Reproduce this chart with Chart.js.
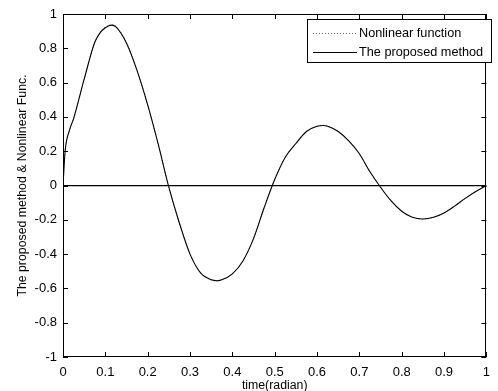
<!DOCTYPE html>
<html>
<head>
<meta charset="utf-8">
<script src="https://cdn.jsdelivr.net/npm/chart.js@4.4.1/dist/chart.umd.min.js"></script>
<style>
  html, body { margin: 0; padding: 0; background: #fff; }
  #c { display: block; }
</style>
</head>
<body>
<canvas id="c" width="498" height="391"></canvas>
<script>
// ---- data ----
const timeX = [0, 0.005, 0.015, 0.025, 0.05, 0.075, 0.0875, 0.1, 0.115, 0.125, 0.15, 0.175, 0.2, 0.225, 0.25,
  0.275, 0.3, 0.325, 0.35, 0.365, 0.375, 0.4, 0.425, 0.45, 0.475, 0.5, 0.525, 0.55, 0.575, 0.6, 0.615,
  0.625, 0.65, 0.675, 0.7, 0.725, 0.75, 0.775, 0.8, 0.825, 0.85, 0.875, 0.9, 0.925, 0.95, 0.975, 1.0];
const nonlinearY = [0, 0.21, 0.32, 0.39, 0.62, 0.835, 0.895, 0.925, 0.94, 0.93, 0.835, 0.67, 0.47, 0.24, -0.01,
  -0.22, -0.40, -0.51, -0.55, -0.558, -0.552, -0.515, -0.44, -0.31, -0.13, 0.035, 0.165, 0.245, 0.315, 0.345, 0.352,
  0.347, 0.315, 0.26, 0.185, 0.08, -0.01, -0.09, -0.15, -0.185, -0.197, -0.187, -0.16, -0.12, -0.075, -0.035, 0.0];
const proposedY = [0, 0.2, 0.32, 0.39, 0.62, 0.835, 0.89, 0.92, 0.935, 0.925, 0.83, 0.67, 0.47, 0.24, -0.01,
  -0.22, -0.40, -0.51, -0.55, -0.555, -0.55, -0.515, -0.44, -0.31, -0.13, 0.035, 0.165, 0.245, 0.315, 0.345, 0.35,
  0.345, 0.315, 0.26, 0.185, 0.08, -0.01, -0.09, -0.15, -0.185, -0.195, -0.185, -0.16, -0.12, -0.075, -0.035, 0.0];
const seriesNames = ["Nonlinear function", "The proposed method"];
const xTitle = "time(radian)";
const yTitle = "The proposed method & Nonlinear Func.";
const xTicks = [0, 0.1, 0.2, 0.3, 0.4, 0.5, 0.6, 0.7, 0.8, 0.9, 1];
const yTicks = [-1, -0.8, -0.6, -0.4, -0.2, 0, 0.2, 0.4, 0.6, 0.8, 1];

const FONT = "'Liberation Sans', Arial, Helvetica, sans-serif";
const toPts = ys => timeX.map((x, i) => ({ x: x, y: ys[i] }));
const fmt = v => { const r = Math.round(v * 10) / 10; return r === 0 ? "0" : String(r); };

const framePlugin = {
  id: 'frame',
  afterDraw(chart) {
    const { ctx, chartArea: a, scales } = chart;
    ctx.save();
    ctx.strokeStyle = '#000';
    ctx.lineWidth = 1;
    // frame
    ctx.strokeRect(Math.round(a.left) + 0.5, Math.round(a.top) + 0.5,
      Math.round(a.right - a.left) - 1, Math.round(a.bottom - a.top) - 1);
    // inward ticks
    const tl = 5;
    ctx.beginPath();
    xTicks.forEach(v => {
      const px = Math.round(scales.x.getPixelForValue(v)) + 0.5;
      ctx.moveTo(px, a.bottom); ctx.lineTo(px, a.bottom - tl);
      ctx.moveTo(px, a.top); ctx.lineTo(px, a.top + tl);
    });
    yTicks.forEach(v => {
      const py = Math.round(scales.y.getPixelForValue(v)) + 0.5;
      ctx.moveTo(a.left, py); ctx.lineTo(a.left + tl, py);
      ctx.moveTo(a.right, py); ctx.lineTo(a.right - tl, py);
    });
    ctx.stroke();
    // legend
    const bx = 307.5, by = 19.5, bw = 184, bh = 43;
    ctx.fillStyle = '#fff';
    ctx.fillRect(bx, by, bw, bh);
    ctx.strokeRect(bx, by, bw, bh);
    ctx.font = "12.7px " + FONT;
    ctx.fillStyle = '#000';
    ctx.textBaseline = 'middle';
    ctx.textAlign = 'left';
    const rows = [by + 13.5, by + 32.5];
    // dotted sample
    ctx.save();
    ctx.strokeStyle = '#666';
    ctx.setLineDash([1, 2]);
    ctx.beginPath(); ctx.moveTo(313, Math.round(rows[0]) + 0.5); ctx.lineTo(357, Math.round(rows[0]) + 0.5); ctx.stroke();
    ctx.restore();
    ctx.beginPath(); ctx.moveTo(313, Math.round(rows[1]) + 0.5); ctx.lineTo(357, Math.round(rows[1]) + 0.5); ctx.stroke();
    ctx.fillText(seriesNames[0], 359, rows[0]);
    ctx.fillText(seriesNames[1], 359, rows[1]);
    ctx.restore();
  }
};

new Chart(document.getElementById('c'), {
  type: 'line',
  data: {
    datasets: [
      {
        label: seriesNames[1], data: toPts(proposedY), borderColor: '#000', borderWidth: 1.1,
        pointRadius: 0, fill: false, cubicInterpolationMode: 'monotone', order: 0
      },
      {
        label: seriesNames[0], data: toPts(nonlinearY), borderColor: '#888', borderWidth: 1,
        borderDash: [1, 2], pointRadius: 0, fill: false, cubicInterpolationMode: 'monotone', order: 1
      }
    ]
  },
  options: {
    responsive: false,
    animation: false,
    events: [],
    layout: { padding: { top: 14, right: 2, left: 0, bottom: 0 } },
    plugins: { legend: { display: false }, tooltip: { enabled: false } },
    scales: {
      x: {
        type: 'linear', min: 0, max: 1,
        afterFit(s) { s.height = 34; },
        afterBuildTicks(s) { s.ticks = xTicks.map(v => ({ value: v })); },
        ticks: { color: '#000', font: { family: FONT, size: 13 }, padding: 8, maxRotation: 0, callback: v => fmt(v) },
        grid: { display: false, drawTicks: false },
        border: { display: false },
        title: { display: true, text: xTitle, color: '#000', font: { family: FONT, size: 12.3 }, padding: { top: 0, bottom: -2 } }
      },
      y: {
        type: 'linear', min: -1, max: 1,
        afterFit(s) { s.width = 63; },
        afterBuildTicks(s) { s.ticks = yTicks.map(v => ({ value: v })); },
        ticks: { color: '#000', font: { family: FONT, size: 13 }, padding: 6, callback: v => fmt(v) },
        grid: {
          display: true, drawTicks: false, lineWidth: 1.2,
          color: c => (c.tick && Math.abs(c.tick.value) < 1e-9) ? '#000' : 'rgba(0,0,0,0)'
        },
        border: { display: false },
        title: { display: true, text: yTitle, color: '#000', font: { family: FONT, size: 12.3 }, padding: { top: 15, bottom: 0 } }
      }
    }
  },
  plugins: [framePlugin]
});
</script>
</body>
</html>
